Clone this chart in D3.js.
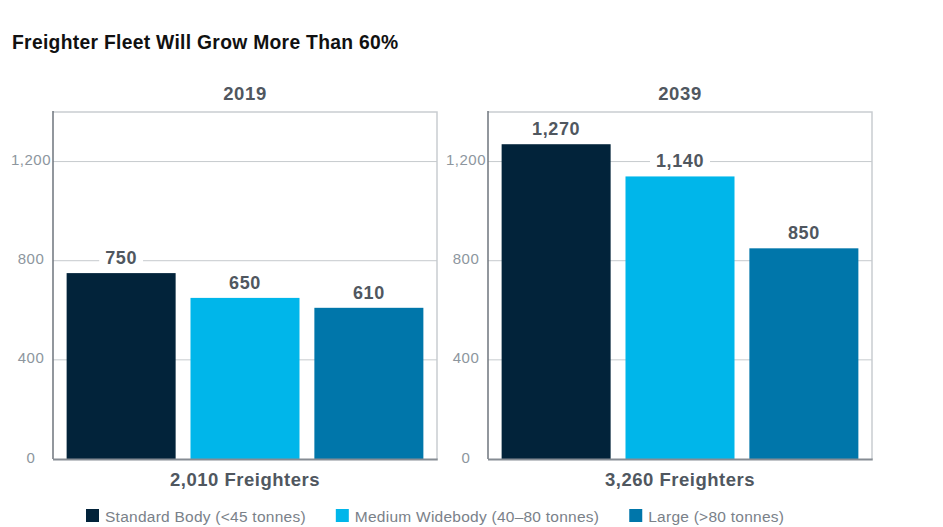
<!DOCTYPE html>
<html>
<head>
<meta charset="utf-8">
<script src="https://cdn.jsdelivr.net/npm/d3@7"></script>
<style>
  html, body { margin: 0; padding: 0; background: #fff; }
  svg { display: block; font-family: 'Liberation Sans', Arial, Helvetica, sans-serif; }
</style>
</head>
<body>
<div id="chart"></div>
<script>
const chartTitle = 'Freighter Fleet Will Grow More Than 60%'
const years = ['2019', '2039']
const categories = ['Standard Body (<45 tonnes)', 'Medium Widebody (40–80 tonnes)', 'Large (>80 tonnes)']
const fleet2019 = [750, 650, 610]
const fleet2039 = [1270, 1140, 850]
const totals = [2010, 3260]
const yTicks = [0, 400, 800, 1200]

const colors = ['#02233a', '#00b6ea', '#0076aa']
const width = 943
const height = 527
const panels = [
  { year: years[0], values: fleet2019, total: totals[0], x0: 53, x1: 437 },
  { year: years[1], values: fleet2039, total: totals[1], x0: 488, x1: 872 }
]
const plotTop = 112
const plotBottom = 459
const fmt = d3.format(',')

const svg = d3.select('#chart').append('svg')
  .attr('width', width)
  .attr('height', height)

svg.append('text')
  .attr('x', 12)
  .attr('y', 49)
  .attr('font-size', 19.3)
  .attr('font-weight', 'bold')
  .attr('letter-spacing', 0.3)
  .attr('fill', '#111')
  .text(chartTitle)

const y = d3.scaleLinear().domain([0, 1400]).range([plotBottom, plotTop])

panels.forEach(p => {
  const g = svg.append('g')
  const x = d3.scaleBand()
    .domain(categories)
    .range([p.x0, p.x1])
    .paddingInner(0.12)
    .paddingOuter(0.11)

  // box border (top + right)
  g.append('path')
    .attr('d', `M${p.x0},${plotTop}H${p.x1}V${plotBottom}`)
    .attr('fill', 'none')
    .attr('stroke', '#c9cdd1')
    .attr('stroke-width', 1.5)

  // gridlines
  g.append('g')
    .selectAll('line')
    .data(yTicks.filter(t => t > 0))
    .join('line')
    .attr('x1', p.x0).attr('x2', p.x1)
    .attr('y1', d => y(d)).attr('y2', d => y(d))
    .attr('stroke', '#c6cacd')
    .attr('stroke-width', 1)

  // tick labels
  const yAxis = g.append('g')
    .attr('transform', `translate(${p.x0},0)`)
    .call(d3.axisLeft(y).tickValues(yTicks).tickFormat(fmt).tickSize(0).tickPadding(0))
  yAxis.select('.domain').remove()
  yAxis.selectAll('text')
    .attr('x', -22)
    .attr('dy', '0.2em')
    .attr('text-anchor', 'middle')
    .attr('font-size', 15)
    .attr('letter-spacing', 0.5)
    .attr('font-family', "'Liberation Sans', Arial, sans-serif")
    .attr('fill', '#8d969e')

  // bars
  g.append('g')
    .selectAll('rect')
    .data(p.values)
    .join('rect')
    .attr('x', (d, i) => x(categories[i]))
    .attr('y', d => y(d))
    .attr('width', x.bandwidth())
    .attr('height', d => y(0) - y(d))
    .attr('fill', (d, i) => colors[i])

  // axis lines
  g.append('line')
    .attr('x1', p.x0).attr('x2', p.x0)
    .attr('y1', plotTop - 1).attr('y2', plotBottom)
    .attr('stroke', '#6e757c')
    .attr('stroke-width', 1.5)
  g.append('line')
    .attr('x1', p.x0).attr('x2', p.x1 + 0.75)
    .attr('y1', plotBottom + 0.5).attr('y2', plotBottom + 0.5)
    .attr('stroke', '#868c93')
    .attr('stroke-width', 2)

  // value labels with white halo over gridlines
  const labels = g.append('g')
    .selectAll('g')
    .data(p.values)
    .join('g')
    .attr('transform', (d, i) => `translate(${x(categories[i]) + x.bandwidth() / 2},${y(d) - 9})`)
  labels.each(function (d) {
    const sel = d3.select(this)
    const t = sel.append('text')
      .attr('text-anchor', 'middle')
      .attr('font-size', 18)
      .attr('font-weight', 'bold')
      .attr('letter-spacing', 0.6)
      .attr('fill', '#50575f')
      .text(fmt(d))
    const bb = t.node().getBBox()
    sel.insert('rect', 'text')
      .attr('x', bb.x - 6)
      .attr('y', bb.y)
      .attr('width', bb.width + 12)
      .attr('height', bb.height)
      .attr('fill', '#fff')
  })

  // panel title
  g.append('text')
    .attr('x', (p.x0 + p.x1) / 2)
    .attr('y', 100)
    .attr('text-anchor', 'middle')
    .attr('font-size', 18.5)
    .attr('font-weight', 'bold')
    .attr('letter-spacing', 0.6)
    .attr('fill', '#50575f')
    .text(p.year)

  // total
  g.append('text')
    .attr('x', (p.x0 + p.x1) / 2)
    .attr('y', 486)
    .attr('text-anchor', 'middle')
    .attr('font-size', 18.5)
    .attr('font-weight', 'bold')
    .attr('letter-spacing', 0.5)
    .attr('fill', '#50575f')
    .text(`${fmt(p.total)} Freighters`)
})

// legend
const legend = svg.append('g').attr('transform', 'translate(86,509)')
let lx = 0
categories.forEach((c, i) => {
  const item = legend.append('g').attr('transform', `translate(${lx},0)`)
  item.append('rect')
    .attr('width', 13).attr('height', 13)
    .attr('fill', colors[i])
  const t = item.append('text')
    .attr('x', 19)
    .attr('y', 12.5)
    .attr('font-size', 15.5)
    .attr('letter-spacing', 0.25)
    .attr('fill', '#7a8189')
    .text(c)
  lx += 19 + t.node().getComputedTextLength() + 30
})
</script>
</body>
</html>
